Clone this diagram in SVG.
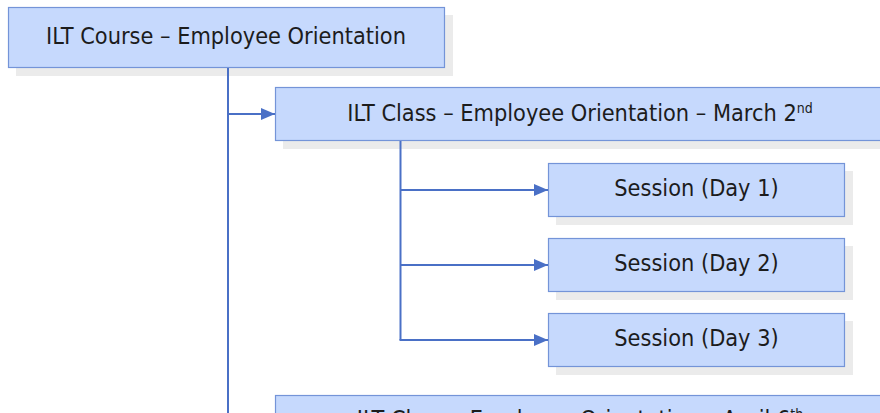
<svg xmlns="http://www.w3.org/2000/svg" width="880" height="413" viewBox="0 0 880 413">
<defs>
<style>
.shadow{fill:#ebebeb}
.box{fill:#c6d9fd;stroke:#7494d8;stroke-width:1.2}
.lbl{font-family:"DejaVu Sans Condensed","DejaVu Sans",sans-serif;font-size:23.3px;fill:#1c1c1c;text-anchor:middle}
.sup{font-size:14px}
.conn{fill:none;stroke:#4a70c6;stroke-width:2}
</style>
<marker id="arr" markerWidth="14" markerHeight="12" refX="14" refY="6" orient="auto" markerUnits="userSpaceOnUse">
<path d="M0,0 L14,6 L0,12 Z" fill="#4a70c6"/>
</marker>
</defs>
<rect width="880" height="413" fill="#ffffff"/>
<g id="course">
<rect class="shadow" x="16" y="15" width="437" height="61"/>
<rect class="box" x="8.5" y="7.5" width="436" height="60"/>
<text class="lbl" x="226" y="44">ILT Course – Employee Orientation</text>
</g>
<g id="class-march">
<rect class="shadow" x="283" y="95" width="620" height="54"/>
<rect class="box" x="275.5" y="87.5" width="620" height="53"/>
<text class="lbl" x="580" y="121">ILT Class – Employee Orientation – March 2<tspan class="sup" dy="-8">nd</tspan></text>
</g>
<g id="session1">
<rect class="shadow" x="556" y="171" width="297" height="54"/>
<rect class="box" x="548.5" y="163.5" width="296" height="53"/>
<text class="lbl" x="696.5" y="196">Session (Day 1)</text>
</g>
<g id="session2">
<rect class="shadow" x="556" y="246" width="297" height="54"/>
<rect class="box" x="548.5" y="238.5" width="296" height="53"/>
<text class="lbl" x="696.5" y="271">Session (Day 2)</text>
</g>
<g id="session3">
<rect class="shadow" x="556" y="321" width="297" height="54"/>
<rect class="box" x="548.5" y="313.5" width="296" height="53"/>
<text class="lbl" x="696.5" y="346">Session (Day 3)</text>
</g>
<g id="class-april">
<rect class="shadow" x="283" y="403" width="620" height="54"/>
<rect class="box" x="275.5" y="395.5" width="620" height="60"/>
<text class="lbl" x="580" y="427">ILT Class – Employee Orientation – April 6<tspan class="sup" dy="-8">th</tspan></text>
</g>
<g id="connectors">
<path class="conn" d="M228,68 V413"/>
<path class="conn" d="M228,114 H275" marker-end="url(#arr)"/>
<path class="conn" d="M400.5,141 V340"/>
<path class="conn" d="M400.5,190 H548" marker-end="url(#arr)"/>
<path class="conn" d="M400.5,265 H548" marker-end="url(#arr)"/>
<path class="conn" d="M399.5,340 H548" marker-end="url(#arr)"/>
</g>
</svg>
